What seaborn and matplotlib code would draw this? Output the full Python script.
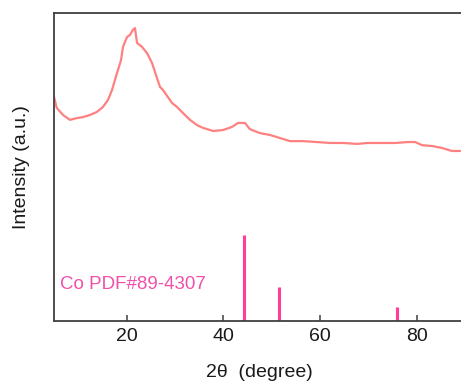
import matplotlib
matplotlib.use("Agg")
import matplotlib.pyplot as plt
import seaborn as sns
import pandas as pd

# XRD pattern (2theta in degrees, intensity in arbitrary units)
two_theta = [5.0, 5.56, 6.86, 8.31, 9.76, 11.0, 12.45, 13.89, 15.13, 16.17,
             17.0, 18.03, 18.86, 19.27, 20.1, 20.72, 21.3, 21.75, 22.17, 23.2,
             24.23, 25.27, 26.3, 26.92, 27.54, 29.4, 30.44, 31.68, 33.13, 34.58,
             35.82, 37.89, 39.95, 41.8, 43.06, 44.5, 45.5, 47.6, 49.67, 51.74,
             53.8, 56.5, 59.4, 62.1, 64.8, 67.7, 69.9, 72.8, 75.5, 78.2,
             79.7, 81.1, 83.2, 85.2, 87.3, 89.0]
intensity = [72.8, 69.2, 66.9, 65.3, 65.9, 66.2, 66.9, 67.9, 69.5, 71.8,
             75.0, 80.5, 84.7, 89.0, 92.2, 92.9, 94.5, 95.1, 90.3, 89.0,
             87.0, 83.8, 78.9, 76.0, 75.0, 70.8, 69.5, 67.5, 65.3, 63.6,
             62.7, 61.7, 62.0, 63.0, 64.3, 64.3, 62.3, 61.0, 60.4, 59.4,
             58.4, 58.4, 58.1, 57.8, 57.8, 57.5, 57.8, 57.8, 57.8, 58.1,
             58.1, 57.1, 56.8, 56.2, 55.2, 55.2]

# Reference pattern: Co PDF#89-4307
ref_positions = [44.2, 51.5, 75.9]
ref_heights = [27.9, 11.1, 4.5]
ref_label = "Co PDF#89-4307"

x_ticks = [20, 40, 60, 80]

sns.set_theme(style="white")
plt.rcParams['font.family'] = ['Liberation Sans', 'DejaVu Sans']

fig = plt.figure(figsize=(4.61, 3.85), dpi=100)
ax = fig.add_axes([54/461, 64/385, (465-54)/461, (321-13)/385])

df = pd.DataFrame({"2theta": two_theta, "intensity": intensity})
sns.lineplot(data=df, x="2theta", y="intensity", ax=ax, color="#FF8080", linewidth=1.6)

ax.vlines(ref_positions, 0, ref_heights, color="#FF3D9A", linewidth=2.2)
ax.text(6.2, 12.0, ref_label, color="#F050A8", fontsize=13.5, va="center", ha="left")

ax.set_xlim(5, 90)
ax.set_ylim(0, 100)
ax.set_xticks(x_ticks)
ax.set_yticks([])
ax.set_xlabel("2\u03b8  (degree)", fontsize=14, color="#1a1a1a", labelpad=14)
ax.set_ylabel("Intensity (a.u.)", fontsize=14, color="#1a1a1a", labelpad=17)
ax.tick_params(axis="x", direction="in", length=4, width=1.1, color="#404040",
               labelsize=14, labelcolor="#1a1a1a", bottom=True, pad=5)
for side in ["left", "bottom", "top", "right"]:
    ax.spines[side].set_color("#404040")
    ax.spines[side].set_linewidth(1.3)

fig.savefig("out.png", dpi=100)
